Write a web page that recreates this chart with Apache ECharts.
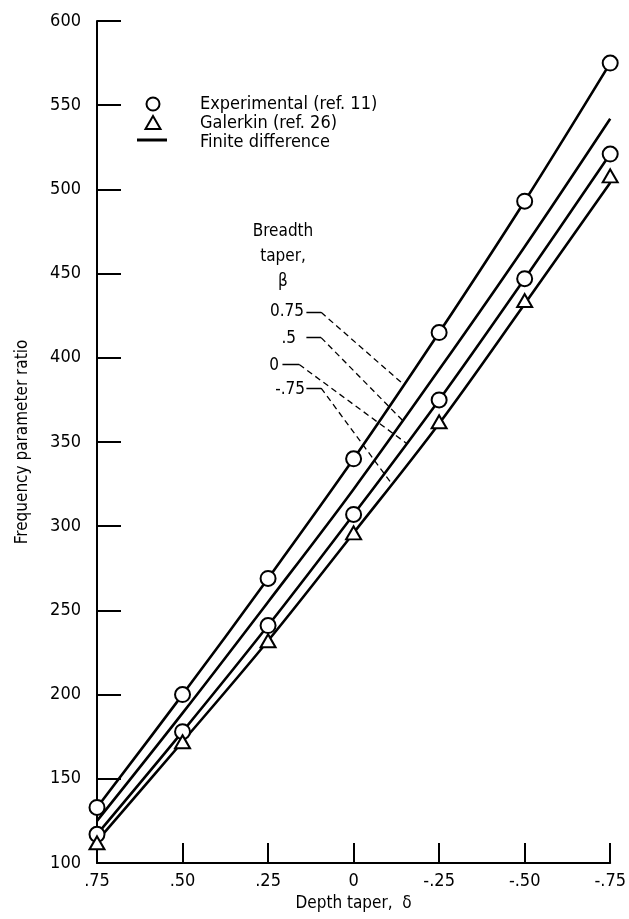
<!DOCTYPE html>
<html>
<head>
<meta charset="utf-8">
<script src="https://cdn.jsdelivr.net/npm/echarts@6/dist/echarts.min.js"></script>
<style>
html,body{margin:0;padding:0;background:#fff;}
#c{width:629px;height:919px;}
</style>
</head>
<body>
<div id="c"></div>
<script>
// ---- data ----
var delta = [0.75, 0.5, 0.25, 0, -0.25, -0.5, -0.75];
var xTickValues = [0.75, 0.5, 0.25, 0, -0.25, -0.5, -0.75];
var xTickLabels = ['.75', '.50', '.25', '0', '-.25', '-.50', '-.75'];
var yTicks = [100, 150, 200, 250, 300, 350, 400, 450, 500, 550, 600];

// Experimental (ref. 11) points
var expBeta075 = [133, 200, 269, 340, 415, 493, 575];
var expBeta0   = [117, 178, 241, 307, 375, 447, 521];
// Galerkin (ref. 26) points
var galBetaM075 = [112, 172, 232, 296, 362, 434, 508];
// Finite difference curves
var fdBeta075  = [133, 200, 269, 340, 415, 493, 575];
var fdBeta05   = [125, 189, 255, 322, 393, 466, 542];
var fdBeta0    = [117, 178, 241, 307, 375, 447, 521];
var fdBetaM075 = [113, 172, 232, 296, 361, 432, 504];

// breadth-taper leader lines: [label end, knee, point on curve] in data coords
var leaderNames = ['0.75', '.5', '0', '-.75'];
var leaderStart = [[0.138, 427], [0.138, 412], [0.208, 396], [0.138, 382]];
var leaderKnee  = [[0.095, 427], [0.095, 412], [0.159, 396], [0.095, 382]];
var leaderEnd   = [[-0.147, 384], [-0.147, 362], [-0.156, 349], [-0.112, 325]];

var FONT = "'Liberation Sans Narrow','DejaVu Sans Condensed','Roboto Condensed',sans-serif";

function pairs(xs, ys) { return xs.map(function (x, i) { return [x, ys[i]]; }); }

var chart = echarts.init(document.getElementById('c'));

var leaderData = [];
for (var i = 0; i < leaderNames.length; i++) {
  leaderData.push({coords: [leaderStart[i], leaderKnee[i]], lineStyle: {type: 'solid'}});
  leaderData.push({coords: [leaderKnee[i], leaderEnd[i]], lineStyle: {type: [6, 4]}});
}

function fdSeries(vals) {
  return {
    type: 'line', name: 'Finite difference', data: pairs(delta, vals),
    smooth: 0.35, showSymbol: false, symbol: 'none',
    lineStyle: {color: '#000', width: 2.6}, z: 2, silent: true
  };
}

var markerStyle = {color: '#fff', borderColor: '#000', borderWidth: 2, opacity: 1};

var option = {
  animation: false,
  backgroundColor: '#fff',
  textStyle: {fontFamily: FONT, color: '#000'},
  grid: {left: 97, right: 17, top: 21, bottom: 56, containLabel: false},
  xAxis: {
    type: 'value', min: -0.75, max: 0.75, interval: 0.25, inverse: true,
    name: 'Depth taper,  δ', nameLocation: 'middle', nameGap: 30,
    nameTextStyle: {fontFamily: FONT, fontSize: 17, color: '#000'},
    axisLine: {onZero: false, lineStyle: {color: '#000', width: 2}},
    axisTick: {inside: true, length: 20, lineStyle: {color: '#000', width: 2}},
    axisLabel: {
      fontFamily: FONT, fontSize: 18, color: '#000', margin: 9,
      formatter: function (v) {
        for (var k = 0; k < xTickValues.length; k++) {
          if (Math.abs(xTickValues[k] - v) < 1e-6) return xTickLabels[k];
        }
        return '';
      }
    },
    splitLine: {show: false}
  },
  yAxis: {
    type: 'value', min: 100, max: 600, interval: 50,
    name: 'Frequency parameter ratio', nameLocation: 'middle', nameGap: 66, nameRotate: 90,
    nameTextStyle: {fontFamily: FONT, fontSize: 17, color: '#000'},
    axisLine: {show: true, onZero: false, lineStyle: {color: '#000', width: 2}},
    axisTick: {show: true, inside: true, length: 24, lineStyle: {color: '#000', width: 2}},
    axisLabel: {
      fontFamily: FONT, fontSize: 18, color: '#000', margin: 16,
      formatter: function (v) { return yTicks.indexOf(v) >= 0 ? String(v) : ''; }
    },
    splitLine: {show: false}
  },
  series: [
    fdSeries(fdBeta075), fdSeries(fdBeta05), fdSeries(fdBeta0), fdSeries(fdBetaM075),
    {
      type: 'lines', coordinateSystem: 'cartesian2d', polyline: false, silent: true,
      lineStyle: {color: '#000', width: 1.3, opacity: 1}, z: 3,
      data: leaderData
    },
    {
      type: 'scatter', name: 'Experimental (ref. 11)', data: pairs(delta, expBeta075),
      symbol: 'circle', symbolSize: 15, z: 5, itemStyle: markerStyle
    },
    {
      type: 'scatter', name: 'Experimental (ref. 11)', data: pairs(delta, expBeta0),
      symbol: 'circle', symbolSize: 15, z: 5, itemStyle: markerStyle
    },
    {
      type: 'scatter', name: 'Galerkin (ref. 26)', data: pairs(delta, galBetaM075),
      symbol: 'triangle', symbolSize: [15, 13], z: 5, itemStyle: markerStyle
    }
  ],
  graphic: [
    // legend
    {type: 'circle', shape: {cx: 153, cy: 104, r: 6.5}, style: {fill: '#fff', stroke: '#000', lineWidth: 2}},
    {type: 'polygon', shape: {points: [[153, 116], [160.5, 129], [145.5, 129]]}, style: {fill: '#fff', stroke: '#000', lineWidth: 2}},
    {type: 'line', shape: {x1: 137, y1: 140, x2: 167, y2: 140}, style: {stroke: '#000', lineWidth: 3}},
    {type: 'text', x: 200, y: 104, style: {text: 'Experimental (ref. 11)', font: '18px ' + FONT, fill: '#000', verticalAlign: 'middle'}},
    {type: 'text', x: 200, y: 123, style: {text: 'Galerkin (ref. 26)', font: '18px ' + FONT, fill: '#000', verticalAlign: 'middle'}},
    {type: 'text', x: 200, y: 142, style: {text: 'Finite difference', font: '18px ' + FONT, fill: '#000', verticalAlign: 'middle'}},
    // breadth taper annotation
    {type: 'text', x: 283, y: 232, style: {text: 'Breadth', font: '17px ' + FONT, fill: '#000', align: 'center', verticalAlign: 'middle'}},
    {type: 'text', x: 283, y: 257, style: {text: 'taper,', font: '17px ' + FONT, fill: '#000', align: 'center', verticalAlign: 'middle'}},
    {type: 'text', x: 283, y: 282, style: {text: 'β', font: '17px ' + FONT, fill: '#000', align: 'center', verticalAlign: 'middle'}},
    {type: 'text', x: 304, y: 312, style: {text: '0.75', font: '17px ' + FONT, fill: '#000', align: 'right', verticalAlign: 'middle'}},
    {type: 'text', x: 296, y: 339, style: {text: '.5', font: '17px ' + FONT, fill: '#000', align: 'right', verticalAlign: 'middle'}},
    {type: 'text', x: 279, y: 366, style: {text: '0', font: '17px ' + FONT, fill: '#000', align: 'right', verticalAlign: 'middle'}},
    {type: 'text', x: 305, y: 390, style: {text: '-.75', font: '17px ' + FONT, fill: '#000', align: 'right', verticalAlign: 'middle'}}
  ]
};
chart.setOption(option);
</script>
</body>
</html>
